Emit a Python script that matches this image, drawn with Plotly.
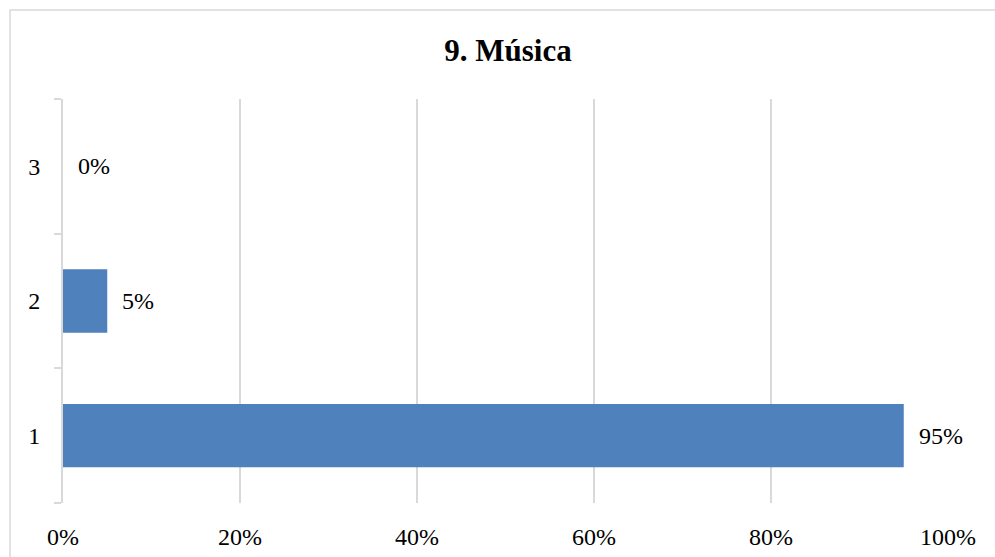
import plotly.graph_objects as go

categories = ["1", "2", "3"]
values = [95, 5, 0]
value_labels = ["95%", "5%", "0%"]
x_ticks = [0, 20, 40, 60, 80, 100]
x_tick_labels = ["0%", "20%", "40%", "60%", "80%", "100%"]
title_text = "<b>9. Música</b>"

FONT = "Liberation Serif, Times New Roman, serif"
GRID = "#d9d9d9"

fig = go.Figure()
fig.add_trace(go.Bar(
    y=categories, x=values, orientation="h",
    marker=dict(color="#4f81bd", line=dict(width=0)),
    hoverinfo="skip",
))

for i, (v, t) in enumerate(zip(values, value_labels)):
    fig.add_annotation(x=v, y=i, xref="x", yref="y", text=t, showarrow=False,
                       xanchor="left", yanchor="middle", xshift=13,
                       font=dict(family=FONT, size=24, color="#000000"))

W, H = 995, 557
L, R, T, B = 63, 47, 99, 54
pw, ph = W - L - R, H - T - B

# chart border (outer frame) in paper coords
fig.add_shape(type="rect", xref="paper", yref="paper",
              x0=(10 - L) / pw, x1=1.3, y0=-0.3, y1=(H - B - 10) / ph,
              line=dict(color=GRID, width=1.5), fillcolor="rgba(0,0,0,0)", layer="below")

fig.update_layout(
    width=W, height=H,
    margin=dict(l=L, r=R, t=T, b=B, autoexpand=False),
    paper_bgcolor="white", plot_bgcolor="white",
    bargap=0.53,
    showlegend=False,
    font=dict(family=FONT, size=24, color="#000000"),
    title=dict(text=title_text, x=(508 - L) / pw, xref="paper", xanchor="center",
               y=1 - 50 / H, yanchor="middle", yref="container",
               font=dict(family=FONT, size=31, color="#000000")),
    xaxis=dict(range=[0, 100], tickvals=x_ticks, ticktext=x_tick_labels,
               showgrid=True, gridcolor=GRID, gridwidth=2, zeroline=False,
               showline=False, ticks="", ticklabelstandoff=17, automargin=False,
               tickfont=dict(family=FONT, size=24, color="#000000")),
    yaxis=dict(type="category", categoryorder="array", categoryarray=categories,
               range=[-0.5, 2.5], autorange=False, automargin=False,
               showgrid=False, zeroline=False, showline=True, linecolor=GRID, linewidth=2,
               ticks="outside", tickson="boundaries", ticklen=7, tickcolor=GRID, tickwidth=2,
               ticklabelstandoff=16,
               tickfont=dict(family=FONT, size=24, color="#000000")),
)

fig.write_html("out.html")
